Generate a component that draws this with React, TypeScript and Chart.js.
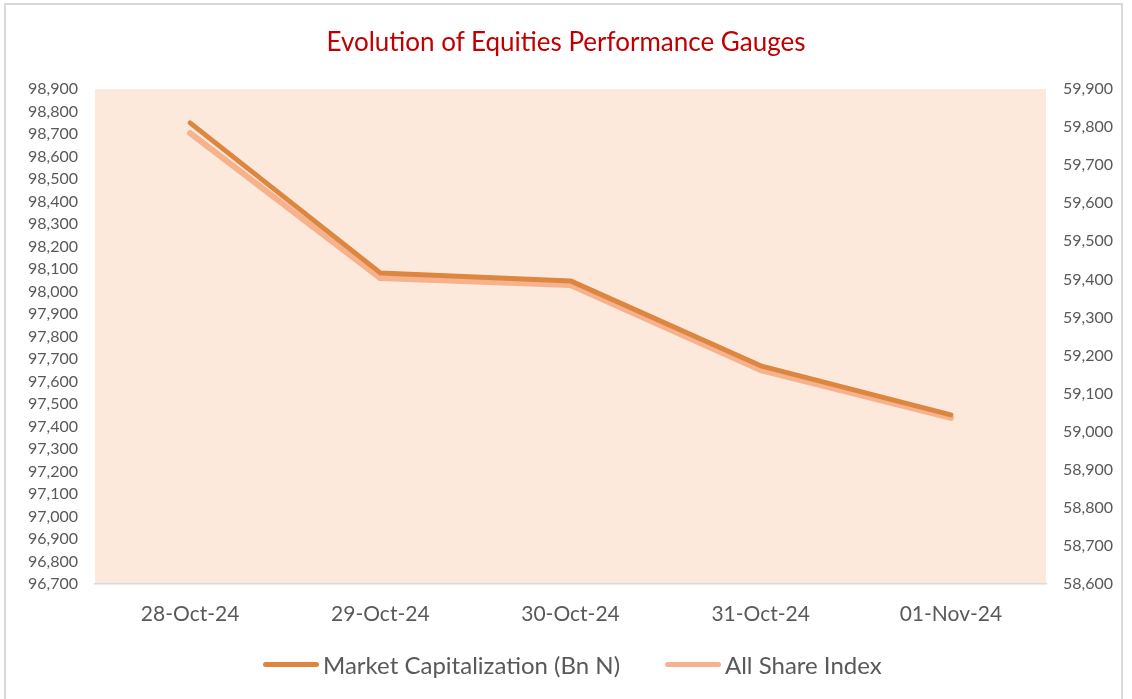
import React, { useEffect, useRef } from "react";
import { Chart, registerables } from "chart.js";

Chart.register(...registerables);

const categories = ["28-Oct-24", "29-Oct-24", "30-Oct-24", "31-Oct-24", "01-Nov-24"];
const marketCap = [59811, 59417, 59396, 59173, 59044];
const allShareIndex = [98704, 98060, 98029, 97651, 97438];
const leftTicks = { min: 96700, max: 98900, step: 100 };
const rightTicks = { min: 58600, max: 59900, step: 100 };

const FONT = "Lato";
const TEXT_COLOR = "#595959";
const DARK = "#DD8640";
const LIGHT = "#F6B28C";
const PLOT_BG = "#FCE9DC";

const fmt = (v: number) => Math.round(v).toLocaleString("en-US");

const plotBg = {
  id: "plotBg",
  beforeDraw(chart: any) {
    const { ctx, chartArea } = chart;
    ctx.save();
    ctx.fillStyle = PLOT_BG;
    ctx.fillRect(chartArea.left, chartArea.top, chartArea.right - chartArea.left, chartArea.bottom - chartArea.top);
    ctx.restore();
  },
};

export default function App() {
  const ref = useRef<HTMLCanvasElement | null>(null);
  useEffect(() => {
    if (!ref.current) return;
    const chart = new Chart(ref.current, {
      type: "line",
      data: {
        labels: categories,
        datasets: [
          {
            label: "Market Capitalization (Bn N)",
            data: marketCap,
            yAxisID: "y1",
            borderColor: DARK,
            backgroundColor: DARK,
            borderWidth: 5,
            pointRadius: 0,
            borderCapStyle: "round",
            borderJoinStyle: "round",
            tension: 0,
          },
          {
            label: "All Share Index",
            data: allShareIndex,
            yAxisID: "y",
            borderColor: LIGHT,
            backgroundColor: LIGHT,
            borderWidth: 6,
            pointRadius: 0,
            borderCapStyle: "round",
            borderJoinStyle: "round",
            tension: 0,
          },
        ],
      },
      options: {
        responsive: false,
        animation: false,
        layout: { padding: { top: 89, left: 0, right: 0, bottom: 65 } },
        plugins: { legend: { display: false }, title: { display: false }, tooltip: { enabled: false } },
        scales: {
          x: {
            offset: true,
            grid: { display: false, drawTicks: false },
            border: { display: true, color: "#D9D9D9", width: 1.5 },
            ticks: { color: TEXT_COLOR, font: { family: FONT, size: 21 }, padding: 18, maxRotation: 0 },
            afterFit: (s: any) => { s.height = 50; },
          },
          y: {
            position: "left",
            min: leftTicks.min,
            max: leftTicks.max,
            grid: { display: false, drawTicks: false },
            border: { display: false },
            ticks: { stepSize: leftTicks.step, color: TEXT_COLOR, font: { family: FONT, size: 16 }, padding: 17, callback: (v: any) => fmt(Number(v)), autoSkip: false },
            afterFit: (s: any) => { s.width = 95; },
          },
          y1: {
            position: "right",
            min: rightTicks.min,
            max: rightTicks.max,
            grid: { display: false, drawTicks: false },
            border: { display: false },
            ticks: { stepSize: rightTicks.step, color: TEXT_COLOR, font: { family: FONT, size: 16 }, padding: 17, callback: (v: any) => fmt(Number(v)), autoSkip: false },
            afterFit: (s: any) => { s.width = 86; },
          },
        },
      },
      plugins: [plotBg],
    });
    return () => chart.destroy();
  }, []);

  const legendText: React.CSSProperties = { position: "absolute", top: 650, fontFamily: FONT, fontSize: 24, color: TEXT_COLOR, lineHeight: "30px", whiteSpace: "nowrap" };
  const legendLine = (left: number, color: string): React.CSSProperties => ({ position: "absolute", left, top: 662, width: 56, height: 5, borderRadius: 3, background: color });

  return (
    <div style={{ position: "absolute", left: 0, top: 0, width: 1132, height: 699, background: "#fff", overflow: "hidden" }}>
      <div style={{ position: "absolute", left: 4, top: 3, width: 1119, height: 710, border: "2px solid #D9D9D9", boxSizing: "border-box" }} />
      <canvas ref={ref} width={1132} height={699} style={{ position: "absolute", left: 0, top: 0 }} />
      <div style={{ position: "absolute", left: 0, width: 1132, top: 24, textAlign: "center", fontFamily: FONT, fontSize: 26, color: "#C00000", lineHeight: "34px" }}>
        Evolution of Equities Performance Gauges
      </div>
      <div style={legendLine(263, DARK)} />
      <div style={{ ...legendText, left: 323 }}>Market Capitalization (Bn N)</div>
      <div style={legendLine(665, LIGHT)} />
      <div style={{ ...legendText, left: 725 }}>All Share Index</div>
    </div>
  );
}
